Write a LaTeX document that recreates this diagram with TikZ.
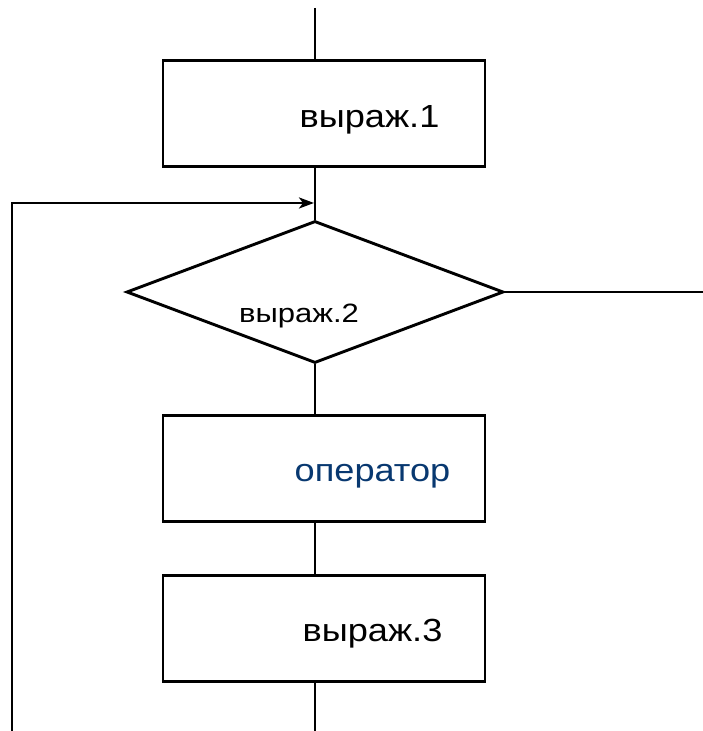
\documentclass[tikz,border=0pt]{standalone}
\usepackage{fontspec}
\setmainfont{Liberation Sans}
\usetikzlibrary{arrows.meta,shapes.geometric}
\definecolor{opblue}{RGB}{8,56,112}
\tikzset{
  flow/.style={line width=2.9pt, black},
  blockbox/.style={draw, line width=2.9pt, minimum width=322pt, minimum height=106pt, inner sep=0pt},
  decision/.style={draw, diamond, line width=2.9pt, minimum width=377pt, minimum height=142pt, inner sep=0pt},
  bigtext/.style={anchor=base, inner sep=0pt, font=\fontsize{32}{36}\selectfont},
  smalltext/.style={anchor=base, inner sep=0pt, font=\fontsize{26.5}{30}\selectfont}
}
\begin{document}
\begin{tikzpicture}[x=1pt,y=1pt]
  \useasboundingbox (0,0) rectangle (703,731);
  % blocks
  \node[blockbox] (b1) at (324,617.5) {};
  \node[decision] (d) at (315,439) {};
  \node[blockbox] (b2) at (324,262.5) {};
  \node[blockbox] (b3) at (324,102.5) {};
  % labels
  \node[bigtext] (t1) at (369.5,603) {\scalebox{1.13}[1]{выраж.1}};
  \node[smalltext] (t2) at (299,408) {\scalebox{1.17}[1]{выраж.2}};
  \node[bigtext, text=opblue] (t3) at (372.5,249) {\scalebox{1.13}[1]{оператор}};
  \node[bigtext] (t4) at (372.5,89) {\scalebox{1.13}[1]{выраж.3}};
  % free ends of the connectors
  \coordinate (top) at (315,723);
  \coordinate (bot) at (315,0);
  \coordinate (exit) at (703,439);
  \coordinate (loopb) at (12,0);
  \coordinate (loopt) at (12,528);
  \coordinate (join) at (315,528);
  % main flow
  \draw[flow] (top) -- (top |- b1.north);
  \draw[flow] (top |- b1.south) -- (d.north);
  \draw[flow] (d.south) -- (d.south |- b2.north);
  \draw[flow] (d.south |- b2.south) -- (d.south |- b3.north);
  \draw[flow] (d.south |- b3.south) -- (bot);
  \draw[flow] (d.east) -- (exit);
  % loop back to the condition
  \draw[flow, -{Stealth[length=15pt,width=11pt,inset=4pt]}] (loopb) -- (loopt) -- ([xshift=-1pt]join);
\end{tikzpicture}
\end{document}
